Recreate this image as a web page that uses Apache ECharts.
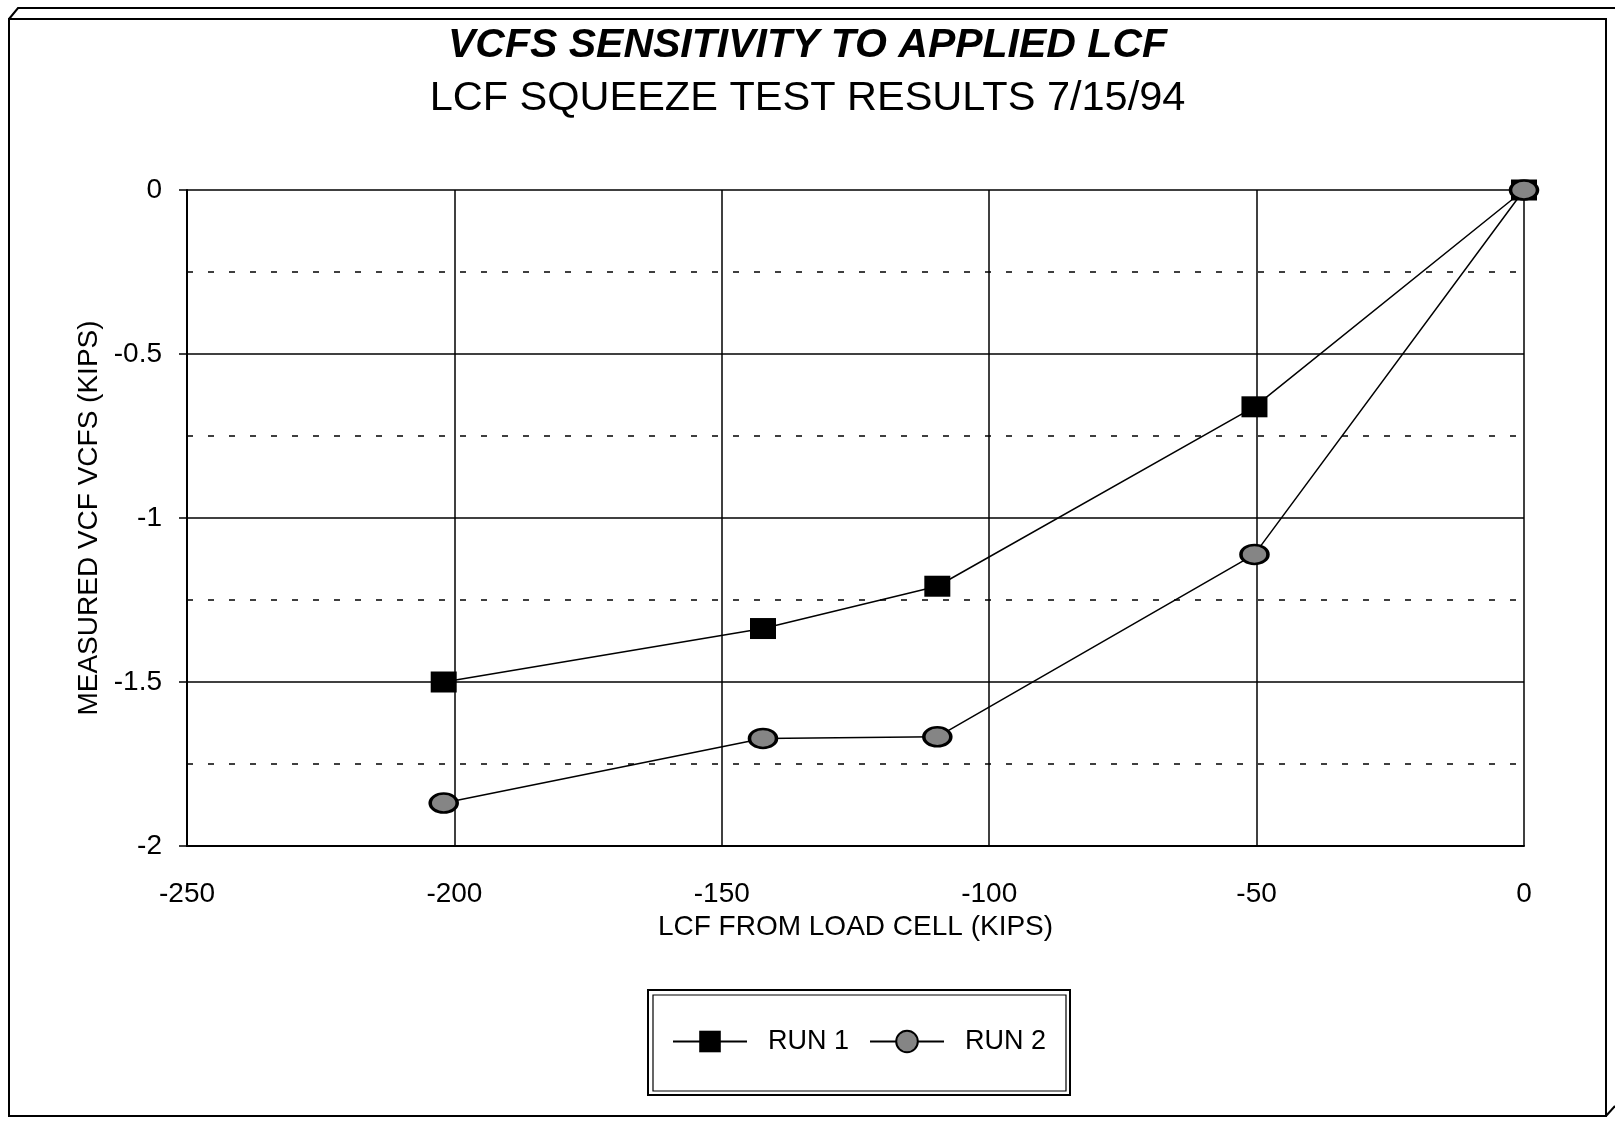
<!DOCTYPE html>
<html>
<head>
<meta charset="utf-8">
<title>VCFS sensitivity to applied LCF</title>
<script src="https://cdn.jsdelivr.net/npm/echarts@6/dist/echarts.min.js"></script>
<style>
  html, body { margin: 0; padding: 0; background: #fff; }
  #main { width: 1615px; height: 1127px; }
</style>
</head>
<body>
<div id="main"></div>
<script type="text/javascript">
    // values
    var lcfKips = [-202, -142.3, -109.7, -50.4, 0];
    var run1Vcfs = [-1.5, -1.337, -1.208, -0.661, 0];
    var run2Vcfs = [-1.869, -1.672, -1.667, -1.111, 0];
    var seriesNames = ['RUN 1', 'RUN 2'];

    var FONT = "'Liberation Sans', Arial, Helvetica, sans-serif";

    function pairs(xs, ys) {
        var out = [];
        for (var i = 0; i < xs.length; i++) {
            out.push([xs[i], ys[i]]);
        }
        return out;
    }

    var myChart = echarts.init(document.getElementById('main'));

    var option = {
        backgroundColor: '#fff',
        animation: false,
        textStyle: { fontFamily: FONT, color: '#000' },
        title: [
            {
                text: 'VCFS SENSITIVITY TO APPLIED LCF',
                left: 'center',
                top: 20,
                textStyle: { fontFamily: FONT, fontSize: 41, fontWeight: 'bold', fontStyle: 'italic', color: '#000' }
            },
            {
                text: 'LCF SQUEEZE TEST RESULTS 7/15/94',
                left: 'center',
                top: 73,
                textStyle: { fontFamily: FONT, fontSize: 41.5, fontWeight: 'normal', color: '#000' }
            }
        ],
        grid: { left: 187, right: 91, top: 190, bottom: 281 },
        legend: {
            data: seriesNames,
            left: 672,
            top: 1028,
            padding: 0,
            itemWidth: 74,
            itemHeight: 27,
            itemGap: 20,
            textStyle: { fontFamily: FONT, fontSize: 27, color: '#000', padding: [0, 0, 0, 16] }
        },
        xAxis: {
            type: 'value',
            min: -250,
            max: 0,
            interval: 50,
            name: 'LCF FROM LOAD CELL (KIPS)',
            nameLocation: 'middle',
            nameGap: 62,
            nameTextStyle: { fontFamily: FONT, fontSize: 28, color: '#000' },
            axisLine: { show: true, onZero: false, lineStyle: { color: '#000', width: 2 } },
            axisTick: { show: false },
            axisLabel: { margin: 34, fontFamily: FONT, fontSize: 28, color: '#000' },
            splitLine: { show: true, lineStyle: { color: '#000', width: 1.5 } }
        },
        yAxis: {
            type: 'value',
            min: -2,
            max: 0,
            interval: 0.5,
            name: 'MEASURED VCF VCFS (KIPS)',
            nameLocation: 'middle',
            nameGap: 80,
            nameTextStyle: { fontFamily: FONT, fontSize: 28, color: '#000' },
            axisLine: { show: true, onZero: false, lineStyle: { color: '#000', width: 2 } },
            axisTick: { show: true, inside: false, length: 8, lineStyle: { color: '#000', width: 1.5 } },
            axisLabel: { margin: 25, fontFamily: FONT, fontSize: 28, color: '#000' },
            splitLine: { show: true, lineStyle: { color: '#000', width: 1.5 } },
            minorTick: { show: false, splitNumber: 2 },
            minorSplitLine: { show: true, lineStyle: { color: '#000', width: 1.5, type: [6, 15] } }
        },
        series: [
            {
                name: 'RUN 1',
                type: 'line',
                clip: false,
                data: pairs(lcfKips, run1Vcfs),
                symbol: 'rect',
                symbolSize: [26, 21],
                lineStyle: { color: '#000', width: 1.5 },
                itemStyle: { color: '#000' }
            },
            {
                name: 'RUN 2',
                type: 'line',
                clip: false,
                data: pairs(lcfKips, run2Vcfs),
                symbol: 'circle',
                symbolSize: [27, 19],
                lineStyle: { color: '#000', width: 1.5 },
                itemStyle: { color: '#858585', borderColor: '#000', borderWidth: 3 }
            }
        ],
        graphic: [
            // outer frame of the figure (3d box look)
            { type: 'rect', shape: { x: 9, y: 19, width: 1597, height: 1097 }, style: { fill: null, stroke: '#000', lineWidth: 2 }, silent: true },
            { type: 'polyline', shape: { points: [[9, 19], [18, 8], [1615, 8]] }, style: { fill: null, stroke: '#000', lineWidth: 2 }, silent: true },
            { type: 'polyline', shape: { points: [[1606, 1116], [1615, 1106]] }, style: { fill: null, stroke: '#000', lineWidth: 2 }, silent: true },
            // legend box, double line
            { type: 'rect', shape: { x: 648, y: 990, width: 422, height: 105 }, style: { fill: null, stroke: '#000', lineWidth: 2 }, silent: true },
            { type: 'rect', shape: { x: 653, y: 995, width: 413, height: 96 }, style: { fill: null, stroke: '#000', lineWidth: 1.2 }, silent: true }
        ]
    };

    myChart.setOption(option);
</script>
</body>
</html>
